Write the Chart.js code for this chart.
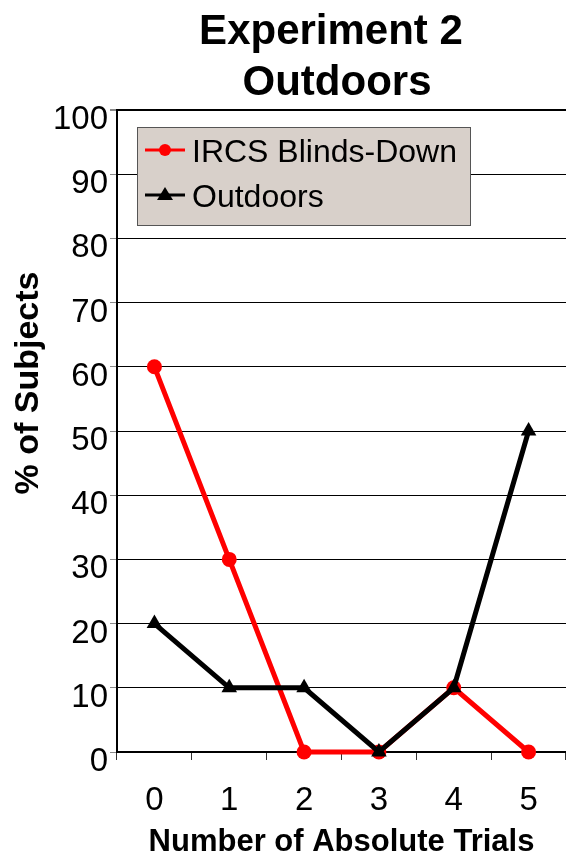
<!DOCTYPE html>
<html>
<head>
<meta charset="utf-8">
<script src="https://cdn.jsdelivr.net/npm/chart.js@4/dist/chart.umd.min.js"></script>
<style>
  html, body { margin: 0; padding: 0; background: #fff; }
  #wrap { width: 566px; height: 858px; }
</style>
</head>
<body>
<div id="wrap"><canvas id="c" width="566" height="858"></canvas></div>
<script>
const categories = ['0', '1', '2', '3', '4', '5'];
const ircsValues = [60, 30, 0, 0, 10, 0];
const outdoorsValues = [20, 10, 10, 0, 10, 50];
const seriesNames = ['IRCS Blinds-Down', 'Outdoors'];
const titleLines = ['Experiment 2', 'Outdoors'];
const xTitle = 'Number of Absolute Trials';
const yTitle = '% of Subjects';

const FONT = "'Liberation Sans', Arial, sans-serif";

const titlePlugin = {
  id: 'titlePlugin',
  afterDraw(chart) {
    const ctx = chart.ctx;
    ctx.save();
    ctx.font = 'bold 42px ' + FONT;
    ctx.fillStyle = '#000';
    ctx.textAlign = 'center';
    ctx.textBaseline = 'alphabetic';
    ctx.fillText(titleLines[0], 331, 44);
    ctx.fillText(titleLines[1], 337, 95);
    ctx.restore();
  }
};

const insideLegend = {
  id: 'insideLegend',
  afterDraw(chart) {
    const ctx = chart.ctx;
    const ca = chart.chartArea;
    const x = ca.left + 20, y = ca.top + 17, w = 333, h = 98;
    ctx.save();
    ctx.fillStyle = '#d8d0ca';
    ctx.fillRect(x, y, w, h);
    ctx.strokeStyle = '#555';
    ctx.lineWidth = 1;
    ctx.strokeRect(x + 0.5, y + 0.5, w, h);
    chart.data.datasets.forEach((ds, i) => {
      const ly = y + 23 + i * 45;
      ctx.strokeStyle = ds.borderColor;
      ctx.lineWidth = 3;
      ctx.beginPath();
      ctx.moveTo(x + 8, ly);
      ctx.lineTo(x + 48, ly);
      ctx.stroke();
      ctx.fillStyle = ds.borderColor;
      if (ds.pointStyle === 'circle') {
        ctx.beginPath();
        ctx.arc(x + 28, ly, 6, 0, Math.PI * 2);
        ctx.fill();
      } else {
        ctx.beginPath();
        ctx.moveTo(x + 28, ly - 8);
        ctx.lineTo(x + 36, ly + 5);
        ctx.lineTo(x + 20, ly + 5);
        ctx.closePath();
        ctx.fill();
      }
      ctx.fillStyle = '#000';
      ctx.font = '32px ' + FONT;
      ctx.textBaseline = 'middle';
      ctx.textAlign = 'left';
      ctx.fillText(ds.label, x + 55, ly + 3);
    });
    ctx.restore();
  }
};

const yTitlePlugin = {
  id: 'yTitlePlugin',
  afterDraw(chart) {
    const ctx = chart.ctx;
    const ca = chart.chartArea;
    ctx.save();
    ctx.translate(29, ca.top + 273);
    ctx.rotate(-Math.PI / 2);
    ctx.font = 'bold 34px ' + FONT;
    ctx.fillStyle = '#000';
    ctx.textAlign = 'center';
    ctx.textBaseline = 'middle';
    ctx.fillText(yTitle, 0, 0);
    ctx.restore();
  }
};

new Chart(document.getElementById('c'), {
  type: 'line',
  data: {
    labels: categories,
    datasets: [
      {
        label: seriesNames[0],
        data: ircsValues,
        order: 1,
        borderColor: '#ff0000',
        backgroundColor: '#ff0000',
        borderWidth: 5,
        pointStyle: 'circle',
        pointRadius: 7.5,
        pointBorderWidth: 0,
        tension: 0,
        clip: false
      },
      {
        label: seriesNames[1],
        data: outdoorsValues,
        order: 0,
        borderColor: '#000000',
        backgroundColor: '#000000',
        borderWidth: 5,
        pointStyle: 'triangle',
        pointRadius: 9,
        pointBorderWidth: 0,
        tension: 0,
        clip: false
      }
    ]
  },
  options: {
    responsive: false,
    animation: false,
    layout: { autoPadding: false, padding: { left: 0, right: 0, top: 110, bottom: 0 } },
    plugins: {
      legend: { display: false },
      tooltip: { enabled: false },
      title: { display: false }
    },
    scales: {
      x: {
        type: 'category',
        offset: true,
        afterFit(scale) {
          scale.height = 106;
          scale.paddingLeft = 0;
          scale.paddingRight = 0;
        },
        grid: {
          offset: true,
          drawOnChartArea: false,
          drawTicks: true,
          tickLength: 8,
          tickColor: '#333',
          color: '#000'
        },
        border: { display: true, color: '#000', width: 2 },
        ticks: {
          color: '#000',
          font: { family: FONT, size: 33 },
          padding: 21,
          maxRotation: 0
        },
        title: {
          display: true,
          text: xTitle,
          color: '#000',
          font: { family: FONT, size: 31, weight: 'bold', lineHeight: 1.0 },
          padding: { top: 0, bottom: 0 }
        }
      },
      y: {
        min: 0,
        max: 100,
        afterFit(scale) {
          scale.width = 117;
          scale.paddingTop = 0;
          scale.paddingBottom = 0;
        },
        ticks: {
          stepSize: 10,
          color: '#000',
          font: { family: FONT, size: 33 },
          padding: 2,
          labelOffset: 10
        },
        grid: {
          color: '#000',
          lineWidth: (c) => (c.tick && c.tick.value === 100 ? 2 : 1),
          tickLength: 7,
          tickColor: '#888'
        },
        border: { display: true, color: '#000', width: 2 }
      }
    }
  },
  plugins: [titlePlugin, insideLegend, yTitlePlugin]
});
</script>
</body>
</html>
